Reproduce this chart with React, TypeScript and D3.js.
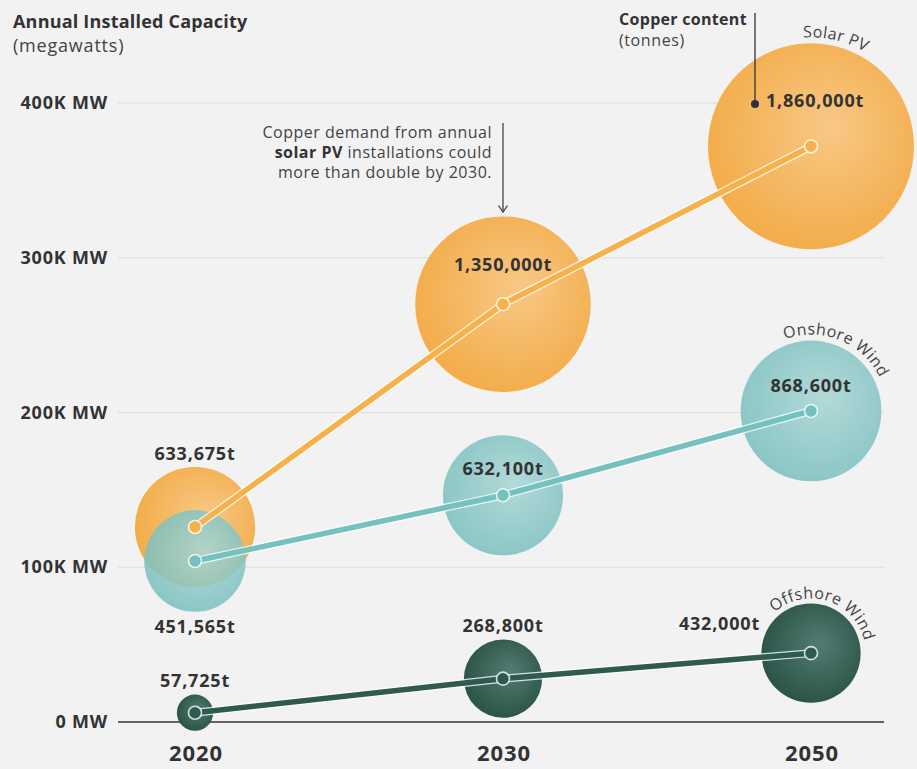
import React from 'react';
import * as d3 from 'd3';

const years = ['2020', '2030', '2050'];
const yTickValues = [0, 100000, 200000, 300000, 400000];
const yTickLabels = ['0 MW', '100K MW', '200K MW', '300K MW', '400K MW'];

const solarMW = [126000, 270000, 372000];
const onshoreMW = [104000, 146500, 201000];
const offshoreMW = [6000, 28000, 44500];

const solarCu = [633675, 1350000, 1860000];
const onshoreCu = [451565, 632100, 868600];
const offshoreCu = [57725, 268800, 432000];

const seriesNames = ['Solar PV', 'Onshore Wind', 'Offshore Wind'];

const W = 917;
const H = 769;
const FONT = "'Open Sans', sans-serif";

export default function App() {
  const x = d3.scalePoint<string>().domain(years).range([195, 811]);
  const y = d3.scaleLinear().domain([0, 400000]).range([722, 103]);
  const r = d3.scaleSqrt().domain([0, 1860000]).range([0, 103]);
  const fmt = d3.format(',');

  const series = [
    { key: 'solar', name: seriesNames[0], mw: solarMW, cu: solarCu, line: '#f5b14a', g0: '#f8c886', g1: '#f3ad4b', op: 1,
      labels: [
        { dx: 0, dy: -67, anchor: 'middle' },
        { dx: 0, dy: -33, anchor: 'middle' },
        { dx: -45, dy: -39, anchor: 'start' },
      ],
      arc: { start: -4, pad: 6 } },
    { key: 'onshore', name: seriesNames[1], mw: onshoreMW, cu: onshoreCu, line: '#74c1c0', g0: '#a8d6d4', g1: '#7bc0bf', op: 0.86,
      labels: [
        { dx: 0, dy: 72, anchor: 'middle' },
        { dx: 0, dy: -20, anchor: 'middle' },
        { dx: 0, dy: -19, anchor: 'middle' },
      ],
      arc: { start: -20, pad: 6 } },
    { key: 'offshore', name: seriesNames[2], mw: offshoreMW, cu: offshoreCu, line: '#2f5a4f', g0: '#537d72', g1: '#2c5449', op: 1,
      labels: [
        { dx: 0, dy: -26, anchor: 'middle' },
        { dx: 0, dy: -47, anchor: 'middle' },
        { dx: -51, dy: -23, anchor: 'end' },
      ],
      arc: { start: -42, pad: 5 } },
  ];

  const lineGen = d3.line<number>()
    .x((_, i) => x(years[i]) as number)
    .y((d) => y(d));

  const arcPath = (cx: number, cy: number, R: number, a0deg: number) => {
    const a0 = (a0deg * Math.PI) / 180;
    const a1 = ((a0deg + 160) * Math.PI) / 180;
    const x0 = cx + R * Math.sin(a0);
    const y0 = cy - R * Math.cos(a0);
    const x1 = cx + R * Math.sin(a1);
    const y1 = cy - R * Math.cos(a1);
    return `M${x0},${y0} A${R},${R} 0 0 1 ${x1},${y1}`;
  };

  return (
    <svg width={W} height={H} style={{ position: 'absolute', left: 0, top: 0, background: '#f2f2f2' }} fontFamily={FONT}>
      <defs>
        {series.map((s) => (
          <radialGradient key={s.key} id={`grad-${s.key}`} cx="55%" cy="45%" r="55%" fx="60%" fy="40%">
            <stop offset="0%" stopColor={s.g0} />
            <stop offset="100%" stopColor={s.g1} />
          </radialGradient>
        ))}
      </defs>
      <rect x={0} y={0} width={W} height={H} fill="#f2f2f2" />

      {/* title */}
      <text x={13} y={28} fontSize={18} fontWeight={700} letterSpacing={0.2} fill="#333">Annual Installed Capacity</text>
      <text x={13} y={52} fontSize={18} letterSpacing={0.8} fill="#444">(megawatts)</text>

      {/* grid */}
      {yTickValues.map((v, i) => (
        <g key={v}>
          <line x1={118} x2={884} y1={y(v)} y2={y(v)} stroke={v === 0 ? '#333' : '#dcdcdc'} strokeWidth={v === 0 ? 1.5 : 1.2} />
          <text x={108} y={y(v) + 6} textAnchor="end" fontSize={18} fontWeight={700} letterSpacing={0.8} fill="#333">{yTickLabels[i]}</text>
        </g>
      ))}

      {/* x labels */}
      {years.map((yr) => (
        <text key={yr} x={(x(yr) as number) + 1} y={761} textAnchor="middle" fontSize={22} fontWeight={700} letterSpacing={0.9} fill="#333">{yr}</text>
      ))}

      {/* bubbles */}
      {series.map((s) => (
        <g key={s.key + 'b'}>
          {s.mw.map((v, i) => (
            <circle key={i} cx={x(years[i])} cy={y(v)} r={r(s.cu[i])} fill={`url(#grad-${s.key})`} opacity={s.op} />
          ))}
        </g>
      ))}

      {/* lines */}
      {series.map((s) => (
        <g key={s.key + 'l'}>
          <path d={lineGen(s.mw) || ''} fill="none" stroke="#ffffff" strokeOpacity={0.8} strokeWidth={8} />
          <path d={lineGen(s.mw) || ''} fill="none" stroke={s.line} strokeWidth={5.5} />
          {s.mw.map((v, i) => (
            <circle key={i} cx={x(years[i])} cy={y(v)} r={6.5} fill={s.line} stroke="#ffffff" strokeOpacity={0.8} strokeWidth={1.6} />
          ))}
        </g>
      ))}

      {/* value labels */}
      {series.map((s) => (
        <g key={s.key + 't'}>
          {s.cu.map((c, i) => (
            <text key={i} x={(x(years[i]) as number) + s.labels[i].dx} y={y(s.mw[i]) + s.labels[i].dy}
              textAnchor={s.labels[i].anchor as any} fontSize={18} fontWeight={700} letterSpacing={0.8} fill="#333">{fmt(c) + 't'}</text>
          ))}
        </g>
      ))}

      {/* curved series names */}
      {series.map((s) => {
        const cx = x(years[2]) as number;
        const cy = y(s.mw[2]);
        const R = r(s.cu[2]) + s.arc.pad;
        return (
          <g key={s.key + 'n'}>
            <path id={`arc-${s.key}`} d={arcPath(cx, cy, R, s.arc.start)} fill="none" stroke="none" />
            <text fontSize={16} letterSpacing={0.4} fill="#444">
              <textPath href={`#arc-${s.key}`}>{s.name}</textPath>
            </text>
          </g>
        );
      })}

      {/* copper content key */}
      <text x={619} y={25} fontSize={16} fontWeight={700} letterSpacing={0.3} fill="#333">Copper content</text>
      <text x={619} y={46} fontSize={16} letterSpacing={0.6} fill="#444">(tonnes)</text>
      <line x1={755} x2={755} y1={13} y2={104} stroke="#333" strokeWidth={1.3} />
      <circle cx={755} cy={104} r={4} fill="#2a3142" />

      {/* annotation */}
      <text x={492} y={138} textAnchor="end" fontSize={16} letterSpacing={0.5} fill="#444">Copper demand from annual</text>
      <text x={492} y={158} textAnchor="end" fontSize={16} letterSpacing={0.5} fill="#444">
        <tspan fontWeight={700} fill="#333">solar PV</tspan> installations could</text>
      <text x={492} y={178} textAnchor="end" fontSize={16} letterSpacing={0.5} fill="#444">more than double by 2030.</text>
      <line x1={503} x2={503} y1={123} y2={212} stroke="#444" strokeWidth={1.3} />
      <path d="M498.5,205.5 L503,212 L507.5,205.5" fill="none" stroke="#444" strokeWidth={1.3} />
    </svg>
  );
}
